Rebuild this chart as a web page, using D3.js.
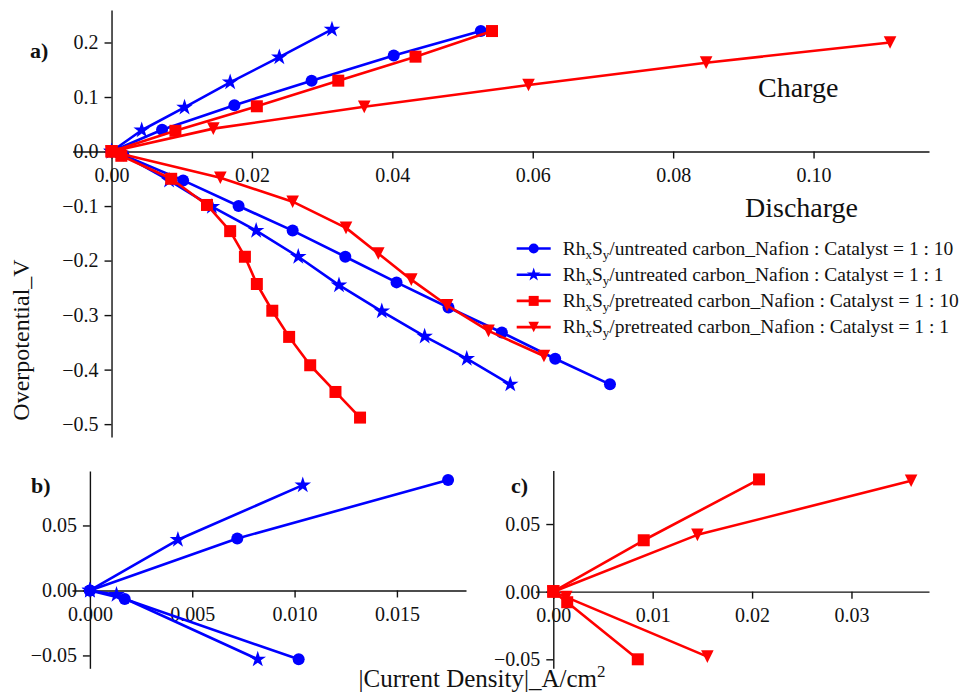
<!DOCTYPE html>
<html>
<head>
<meta charset="utf-8">
<script src="https://cdn.jsdelivr.net/npm/d3@7"></script>
<style>
  body { margin: 0; background: #fff; }
  svg { display: block; }
  svg text { font-family: "Liberation Serif", Tinos, "Times New Roman", Times, "DejaVu Serif", serif !important; fill: #111; }
</style>
</head>
<body>
<svg id="chart" width="960" height="693"></svg>
<script>
// Polarisation data: |current density| (A/cm²) against overpotential (V),
// one charge sweep and one discharge sweep per electrode.
const seriesLabels = [
  "untreated carbon_Nafion : Catalyst = 1 : 10",
  "untreated carbon_Nafion : Catalyst = 1 : 1",
  "pretreated carbon_Nafion : Catalyst = 1 : 10",
  "pretreated carbon_Nafion : Catalyst = 1 : 1"
];
const seriesColors = ["#0000ff", "#0000ff", "#ff0000", "#ff0000"];
const seriesMarkers = ["circle", "star", "square", "triangle"];

const untreated10ChargeI = [0, 0.0072, 0.0175, 0.0285, 0.0402, 0.0526];
const untreated10ChargeV = [0, 0.040, 0.085, 0.130, 0.176, 0.221];
const untreated10DischargeI = [0, 0.0017, 0.0102, 0.0181, 0.0258, 0.0333, 0.0406, 0.0480, 0.0556, 0.0632, 0.0710];
const untreated10DischargeV = [0, -0.0066, -0.053, -0.100, -0.145, -0.193, -0.240, -0.286, -0.332, -0.380, -0.427];

const untreated1ChargeI = [0, 0.0043, 0.0104, 0.0169, 0.0239, 0.0314];
const untreated1ChargeV = [0, 0.039, 0.081, 0.127, 0.173, 0.224];
const untreated1DischargeI = [0, 0.0013, 0.0082, 0.0143, 0.0206, 0.0266, 0.0324, 0.0385, 0.0446, 0.0506, 0.0568];
const untreated1DischargeV = [0, -0.0033, -0.053, -0.101, -0.145, -0.193, -0.245, -0.293, -0.339, -0.380, -0.427];

const pretreated10ChargeI = [0, 0.0091, 0.0207, 0.0323, 0.0433, 0.0542];
const pretreated10ChargeV = [0, 0.038, 0.083, 0.130, 0.174, 0.221];
const pretreated10DischargeI = [0, 0.0014, 0.0085, 0.0136, 0.0169, 0.0190, 0.0207, 0.0229, 0.0253, 0.0283, 0.0319, 0.0354];
const pretreated10DischargeV = [0, -0.0078, -0.050, -0.098, -0.146, -0.193, -0.243, -0.292, -0.340, -0.392, -0.441, -0.488];

const pretreated1ChargeI = [0, 0.0145, 0.0360, 0.0594, 0.0847, 0.1109];
const pretreated1ChargeV = [0, 0.042, 0.082, 0.122, 0.163, 0.200];
const pretreated1DischargeI = [0, 0.0013, 0.0155, 0.0258, 0.0334, 0.0380, 0.0427, 0.0478, 0.0537, 0.0616];
const pretreated1DischargeV = [0, -0.004, -0.048, -0.092, -0.140, -0.187, -0.235, -0.282, -0.329, -0.375];

// Tick values for each panel
const mainXTicks = [0, 0.02, 0.04, 0.06, 0.08, 0.10];
const mainYTicks = [0.2, 0.1, 0.0, -0.1, -0.2, -0.3, -0.4, -0.5];
const zoomUntreatedXTicks = [0, 0.005, 0.010, 0.015];
const zoomPretreatedXTicks = [0, 0.01, 0.02, 0.03];
const zoomYTicks = [-0.05, 0, 0.05];

// Number of leading points shown in the low-current close-ups
const closeUpPoints = 3;

const zip = (xs, ys) => xs.map((x, i) => ({ x, y: ys[i] }));
const series = [
  { charge: zip(untreated10ChargeI, untreated10ChargeV), discharge: zip(untreated10DischargeI, untreated10DischargeV) },
  { charge: zip(untreated1ChargeI, untreated1ChargeV), discharge: zip(untreated1DischargeI, untreated1DischargeV) },
  { charge: zip(pretreated10ChargeI, pretreated10ChargeV), discharge: zip(pretreated10DischargeI, pretreated10DischargeV) },
  { charge: zip(pretreated1ChargeI, pretreated1ChargeV), discharge: zip(pretreated1DischargeI, pretreated1DischargeV) }
].map((s, i) => ({ ...s, color: seriesColors[i], marker: seriesMarkers[i], label: seriesLabels[i] }));

const svg = d3.select("#chart");
const serif = "'Liberation Serif', Tinos, 'Times New Roman', Times, 'DejaVu Serif', serif";

// Marker shapes, sized like matplotlib markers of size ms
function markerPath(type, ms) {
  const h = ms / 2;
  if (type === "circle") return d3.symbol(d3.symbolCircle, Math.PI * h * h)();
  if (type === "square") return `M${-h},${-h}H${h}V${h}H${-h}Z`;
  if (type === "star") {
    const R = h * 1.45;
    return d3.symbol(d3.symbolStar, R * R / 0.8908130915292852)();
  }
  // downward triangle
  return `M0,${h * 1.05}L${h * 1.05},${-h * 1.05}L${-h * 1.05},${-h * 1.05}Z`;
}

function paddedExtent(values) {
  const [lo, hi] = d3.extent(values);
  const p = (hi - lo) * 0.05;
  return [lo - p, hi + p];
}

function drawPanel(opts) {
  const { list, left, right, top, bottom, xTicks, yTicks, xFmt, yFmt, take } = opts;
  const pts = list.flatMap(s => [...s.charge.slice(0, take), ...s.discharge.slice(0, take)]);
  const x = d3.scaleLinear().domain(paddedExtent(pts.map(d => d.x))).range([left, right]);
  const y = d3.scaleLinear().domain(paddedExtent(pts.map(d => d.y))).range([bottom, top]);
  const g = svg.append("g");

  const xAxis = g.append("g")
    .attr("transform", `translate(0,${y(0)})`)
    .call(d3.axisBottom(x).tickValues(xTicks).tickFormat(d3.format(xFmt))
      .tickSize(7).tickSizeOuter(0).tickPadding(9));
  const yAxis = g.append("g")
    .attr("transform", `translate(${x(0)},0)`)
    .call(d3.axisLeft(y).tickValues(yTicks).tickFormat(d3.format(yFmt))
      .tickSize(7).tickSizeOuter(0).tickPadding(6));
  [xAxis, yAxis].forEach(a => {
    a.attr("font-family", serif);
    a.select(".domain").attr("stroke", "#111").attr("stroke-width", 1.4);
    a.selectAll(".tick line").attr("stroke", "#111").attr("stroke-width", 1.4);
    a.selectAll(".tick text").attr("font-size", 20).attr("fill", "#111");
  });

  const line = d3.line().x(d => x(d.x)).y(d => y(d.y));
  list.forEach(s => {
    [s.charge.slice(0, take), s.discharge.slice(0, take)].forEach(sweep => {
      g.append("path").datum(sweep)
        .attr("d", line).attr("fill", "none")
        .attr("stroke", s.color).attr("stroke-width", 2.6).attr("stroke-linejoin", "round");
      g.selectAll(null).data(sweep).join("path")
        .attr("transform", d => `translate(${x(d.x)},${y(d.y)})`)
        .attr("d", markerPath(s.marker, 12))
        .attr("fill", s.color);
    });
  });
  return { g, x, y };
}

// a) all four electrodes over the full current range
drawPanel({
  list: series, left: 72.6, right: 929, top: 10, bottom: 437,
  xTicks: mainXTicks, yTicks: mainYTicks, xFmt: ".2f", yFmt: ".1f", take: Infinity
});
// b) untreated carbon, low-current region
drawPanel({
  list: series.slice(0, 2), left: 72, right: 466, top: 471, bottom: 668.3,
  xTicks: zoomUntreatedXTicks, yTicks: zoomYTicks, xFmt: ".3f", yFmt: ".2f", take: closeUpPoints
});
// c) pretreated carbon, low-current region
drawPanel({
  list: series.slice(2, 4), left: 535.4, right: 929, top: 470.4, bottom: 668.3,
  xTicks: zoomPretreatedXTicks, yTicks: zoomYTicks, xFmt: ".2f", yFmt: ".2f", take: closeUpPoints
});

// Panel tags and sweep annotations
const tag = (t, px, py) => svg.append("text").attr("x", px).attr("y", py)
  .attr("font-size", 22).attr("font-weight", "bold").text(t);
tag("a)", 30, 58);
tag("b)", 31, 493);
tag("c)", 511, 493);
svg.append("text").attr("x", 758).attr("y", 97).attr("font-size", 28).text("Charge");
svg.append("text").attr("x", 745).attr("y", 217).attr("font-size", 28).text("Discharge");

// Legend
const legend = svg.append("g");
series.forEach((s, i) => {
  const ry = 248.5 + i * 26.2;
  const row = legend.append("g").attr("transform", `translate(0,${ry})`);
  row.append("line").attr("x1", 516.7).attr("x2", 550.7)
    .attr("stroke", s.color).attr("stroke-width", 2.6);
  row.append("path").attr("transform", "translate(533.7,0)")
    .attr("d", markerPath(s.marker, 10)).attr("fill", s.color);
  const t = row.append("text").attr("x", 562.7).attr("y", 6.3).attr("font-size", 19.5);
  t.append("tspan").text("Rh");
  t.append("tspan").attr("font-size", 13).attr("dy", 4).text("x");
  t.append("tspan").attr("dy", -4).text("S");
  t.append("tspan").attr("font-size", 13).attr("dy", 4).text("y");
  t.append("tspan").attr("dy", -4).text("/" + s.label);
});

// Shared axis titles
const xt = svg.append("text").attr("x", 482).attr("y", 687)
  .attr("text-anchor", "middle").attr("font-size", 25);
xt.append("tspan").text("|Current Density|_A/cm");
xt.append("tspan").attr("font-size", 17).attr("dy", -10).text("2");

svg.append("text")
  .attr("transform", "translate(29,340) rotate(-90)")
  .attr("text-anchor", "middle").attr("font-size", 24)
  .text("Overpotential_V");
</script>
</body>
</html>
